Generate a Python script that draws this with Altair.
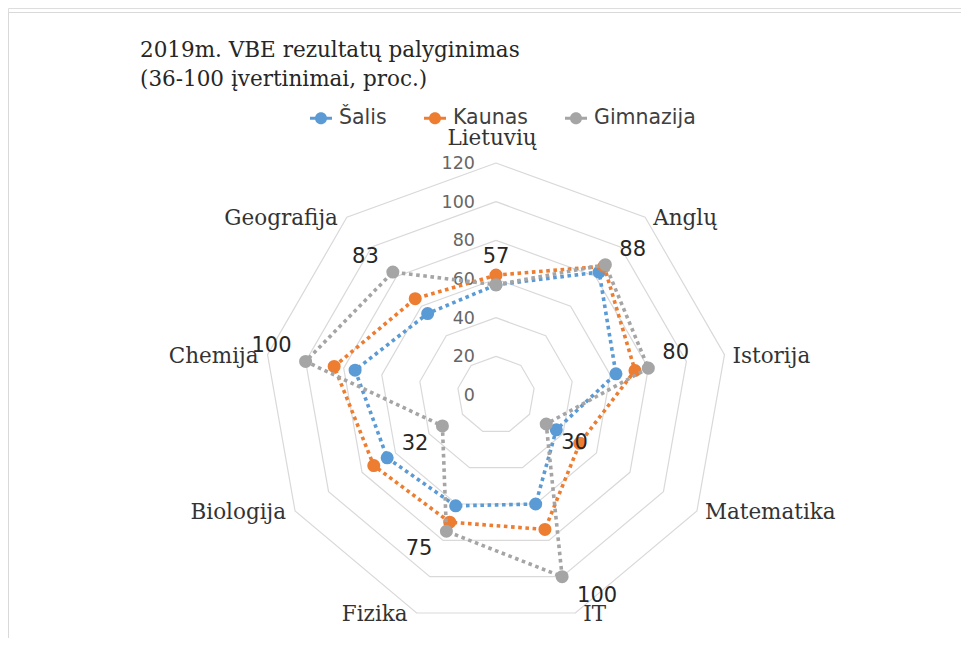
import altair as alt
import pandas as pd

# ---------------- data ----------------
categories = ["Lietuvių", "Anglų", "Istorija", "Matematika", "IT",
              "Fizika", "Biologija", "Chemija", "Geografija"]
salis = [57, 83, 63, 36, 60, 61, 65, 74, 55]
kaunas = [62, 87, 73, 50, 74, 70, 73, 85, 65]
gimnazija = [57, 88, 80, 30, 100, 75, 32, 100, 83]
series_names = ["Šalis", "Kaunas", "Gimnazija"]
series_colors = ["#5B9BD5", "#ED7D31", "#A5A5A5"]
grid_levels = [0, 20, 40, 60, 80, 100, 120]
r_max = 120
title_lines = ["2019m. VBE rezultatų palyginimas", "(36-100 įvertinimai, proc.)"]

N = len(categories)

# ---------------- layout ----------------
W, H = 953, 630
CX, CY = 488, 387          # centre of the radar in view pixels
K = 232 / r_max            # pixels per unit
xdom = [-CX / K, (W - CX) / K]
ydom = [-(H - CY) / K, CY / K]
xs = alt.Scale(domain=xdom, nice=False, zero=False)
ys = alt.Scale(domain=ydom, nice=False, zero=False)
X = alt.X("x:Q", scale=xs, axis=None)
Y = alt.Y("y:Q", scale=ys, axis=None)

ANG = f"datum.i*2*PI/{N}"

def polar(ch, rfield="v"):
    return ch.transform_calculate(
        a=ANG
    ).transform_calculate(
        x=f"datum.{rfield}*sin(datum.a)",
        y=f"datum.{rfield}*cos(datum.a)",
    )

# series table (closed polygons)
rows = []
for name, vals in zip(series_names, [salis, kaunas, gimnazija]):
    for i in range(N + 1):
        rows.append({"series": name, "i": i, "cat": categories[i % N], "v": vals[i % N]})
sdf = pd.DataFrame(rows)

grid_rows = []
for lv in grid_levels:
    for i in range(N + 1):
        grid_rows.append({"level": lv, "i": i, "v": lv})
gdf = pd.DataFrame(grid_rows)

tick_df = pd.DataFrame({"i": [0] * len(grid_levels), "v": grid_levels})
cat_df = pd.DataFrame({"i": list(range(N)), "cat": categories, "v": [r_max] * N})
lab_df = pd.DataFrame({"i": list(range(N)), "v": gimnazija})

FONT_SANS = "DejaVu Sans"
FONT_SERIF = "DejaVu Serif"

legend_path = ("M-1,-0.13L-0.5,-0.13L-0.5,0.13L-1,0.13Z "
               "M0.5,-0.13L1,-0.13L1,0.13L0.5,0.13Z "
               "M-0.55,0A0.55,0.55 0 1,1 0.55,0A0.55,0.55 0 1,1 -0.55,0Z")
leg = alt.Legend(title=None, orient="none", legendX=302, legendY=99,
                 direction="horizontal", symbolType=legend_path, symbolSize=484,
                 symbolStrokeWidth=0, labelFont=FONT_SANS, labelFontSize=20.5,
                 labelColor="#404040", columnPadding=37, labelOffset=7)
color_enc = alt.Color("series:N", scale=alt.Scale(domain=series_names, range=series_colors),
                      legend=leg)

# border
border = alt.Chart(pd.DataFrame({"i": [0]})).mark_rect(
    fill="white", stroke="#D9D9D9", strokeWidth=1
).encode(x=alt.value(0.5), x2=alt.value(W + 20), y=alt.value(4.5), y2=alt.value(H + 20))

grid = polar(alt.Chart(gdf)).mark_line(color="#D9D9D9", strokeWidth=1.2).encode(
    x=X, y=Y, detail="level:N", order="i:Q")

ticks = polar(alt.Chart(tick_df)).mark_text(
    align="right", baseline="middle", dx=-21, dy=1, font=FONT_SANS, fontSize=17.5,
    color="#666666").encode(x=X, y=Y, text="v:Q")

layers = [border, grid, ticks]
for name, col in zip(series_names, series_colors):
    base = polar(alt.Chart(sdf).transform_filter(alt.datum.series == name))
    line = base.mark_line(color=col, strokeWidth=3.6, strokeDash=[3.6, 3.6]).encode(
        x=X, y=Y, order="i:Q")
    pts = base.transform_filter("datum.i < %d" % N).mark_point(
        filled=True, size=170, opacity=1, shape="circle").encode(
        x=X, y=Y, color=color_enc)
    layers += [line, pts]

# data labels for Gimnazija
def data_labels(flt, align, dx, dy):
    return polar(alt.Chart(lab_df).transform_filter(flt)).mark_text(
        align=align, baseline="middle", dx=dx, dy=dy, font=FONT_SANS, fontSize=21,
        color="#262626").encode(x=X, y=Y, text="v:Q")

layers += [
    data_labels("datum.i == 0", "center", 0, -28),
    data_labels("datum.i >= 1 && datum.i <= 2", "left", 14, -15),
    data_labels("datum.i >= 3 && datum.i <= 4", "left", 15, 19),
    data_labels("datum.i >= 5 && datum.i <= 6", "right", -14, 18),
    data_labels("datum.i >= 7", "right", -14, -15),
]

# category labels
def cat_labels(flt, align, dx, dy):
    return polar(alt.Chart(cat_df).transform_filter(flt)).mark_text(
        align=align, baseline="middle", dx=dx, dy=dy, font=FONT_SERIF, fontSize=21.5,
        color="#333333").encode(x=X, y=Y, text="cat:N")

layers += [
    cat_labels("datum.i == 0", "center", -4, -24),
    cat_labels("datum.i >= 1 && datum.i <= 4", "left", 8, 2),
    cat_labels("datum.i >= 5", "right", -9, 2),
]

# title
t1 = alt.Chart(pd.DataFrame({"i": [0]})).mark_text(
    align="left", baseline="alphabetic", font=FONT_SERIF, fontSize=21.5, color="#262626"
).encode(x=alt.value(132), y=alt.value(49), text=alt.value(title_lines[0]))
t2 = alt.Chart(pd.DataFrame({"i": [0]})).mark_text(
    align="left", baseline="alphabetic", font=FONT_SERIF, fontSize=21.5, color="#262626"
).encode(x=alt.value(132), y=alt.value(78), text=alt.value(title_lines[1]))
layers += [t1, t2]

chart = alt.layer(*layers).properties(
    width=W, height=H, autosize="none", padding=0
).configure_view(stroke=None).configure(background="white")

chart.save("out.html", embed_options={"renderer": "svg", "actions": False})
